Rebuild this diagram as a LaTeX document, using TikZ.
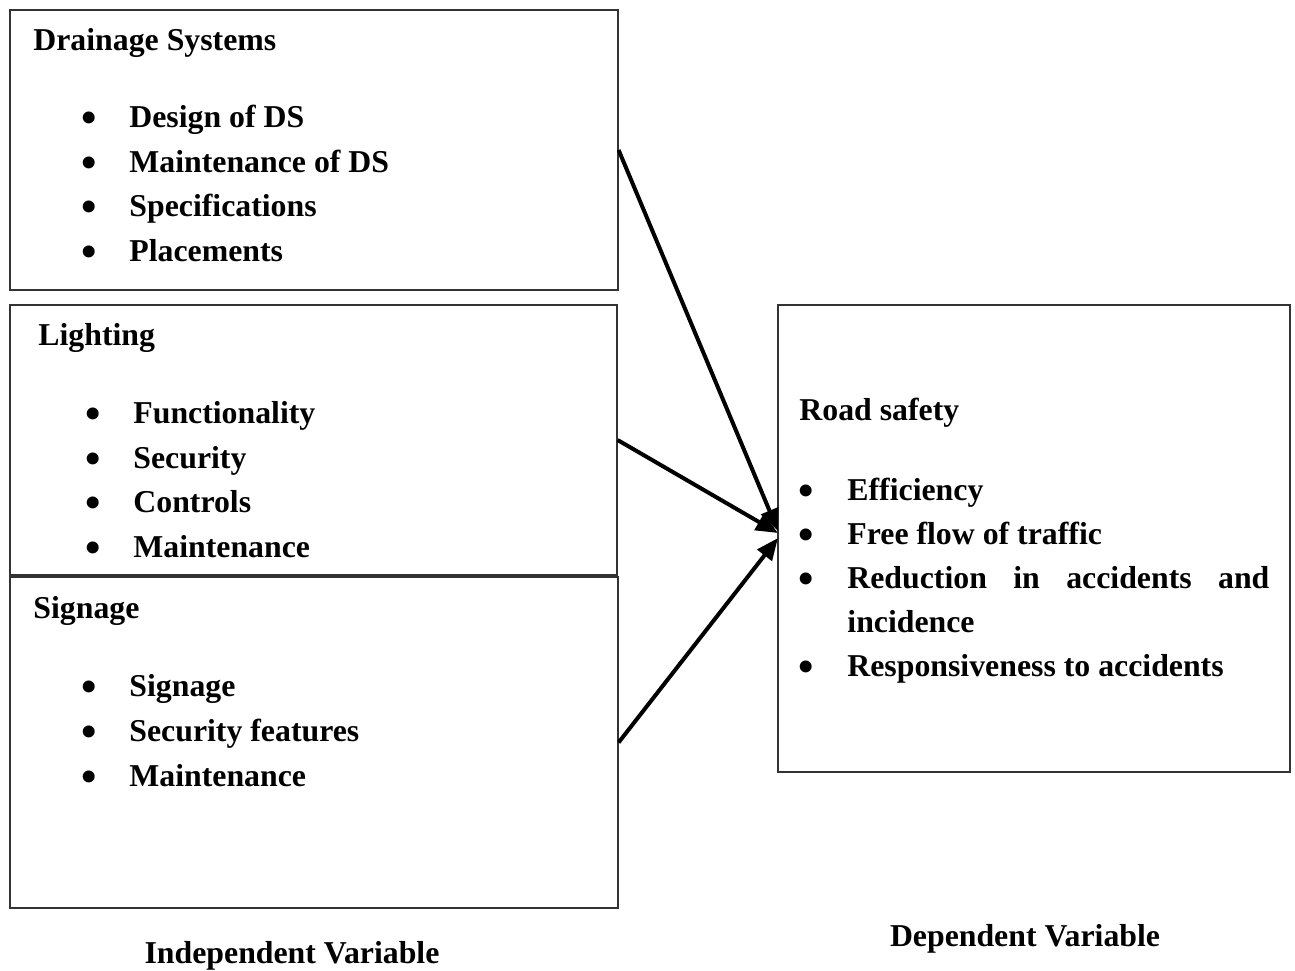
\documentclass[tikz,border=0pt]{standalone}
\usepackage{fontspec}
\setmainfont{Liberation Serif}
\usetikzlibrary{arrows.meta}
\begin{document}
\begin{tikzpicture}[x=0.5pt,y=-0.5pt,
  box/.style={draw=black!80,line width=0.6pt,rectangle,inner sep=0pt},
  txt/.style={anchor=base west,inner sep=0pt,font=\fontsize{15.9}{19}\selectfont\bfseries},
  captext/.style={anchor=base,inner sep=0pt,font=\fontsize{15.9}{19}\selectfont\bfseries},
  bul/.style={anchor=center,inner sep=0pt,yshift=-1.5pt,font=\fontsize{22}{22}\selectfont\bfseries},
  link/.style={line width=2pt,-{Triangle[length=11pt,width=9pt]}}]
\useasboundingbox (0,0) rectangle (1295,970);
% boxes
\node[box,minimum width=304pt,minimum height=140pt] (ds) at (314,150) {};
\node[box,minimum width=303.5pt,minimum height=135pt] (li) at (313.5,440) {};
\node[box,minimum width=304pt,minimum height=165.5pt] (sg) at (314,742.5) {};
\node[box,minimum width=256pt,minimum height=233.5pt] (rs) at (1034,538.5) {};
% drainage
\node[txt] (dst) at (33,50) {Drainage Systems};
\node[bul] (db1) at (89,119) {•};
\node[txt] (d1) at (129,127) {Design of DS};
\node[bul] (db2) at (89,164) {•};
\node[txt] (d2) at (129,172) {Maintenance of DS};
\node[bul] (db3) at (89,208) {•};
\node[txt] (d3) at (129,216) {Specifications};
\node[bul] (db4) at (89,253) {•};
\node[txt] (d4) at (129,261) {Placements};
% lighting
\node[txt] (lit) at (38,345) {Lighting};
\node[bul] (lb1) at (93,415) {•};
\node[txt] (l1) at (133,423) {Functionality};
\node[bul] (lb2) at (93,460) {•};
\node[txt] (l2) at (133,468) {Security};
\node[bul] (lb3) at (93,504) {•};
\node[txt] (l3) at (133,512) {Controls};
\node[bul] (lb4) at (93,549) {•};
\node[txt] (l4) at (133,557) {Maintenance};
% signage
\node[txt] (sgt) at (33,618) {Signage};
\node[bul] (sb1) at (89,688) {•};
\node[txt] (s1) at (129,696) {Signage};
\node[bul] (sb2) at (89,733) {•};
\node[txt] (s2) at (129,741) {Security features};
\node[bul] (sb3) at (89,778) {•};
\node[txt] (s3) at (129,786) {Maintenance};
% road safety
\node[txt] (rst) at (799,420) {Road safety};
\node[bul] (rb1) at (806,492) {•};
\node[txt] (r1) at (847,500) {Efficiency};
\node[bul] (rb2) at (806,536) {•};
\node[txt] (r2) at (847,544) {Free flow of traffic};
\node[bul] (rb3) at (806,580) {•};
\node[txt] (r3) at (847,588) {\hbox to 211pt{Reduction\hfil in\hfil accidents\hfil and}};
\node[txt] (r3b) at (847,632) {incidence};
\node[bul] (rb4) at (806,668) {•};
\node[txt] (r4) at (847,676) {Responsiveness to accidents};
% captions
\node[captext] (iv) at (292,963) {Independent Variable};
\node[captext] (dv) at (1025,946) {Dependent Variable};
% arrows
\coordinate (t1) at (778,531);
\coordinate (t2) at (778,533);
\coordinate (t3) at (778,538);
\draw[link] (ds.east) -- (t1);
\draw[link] (li.east) -- (t2);
\draw[link] (sg.east) -- (t3);
\end{tikzpicture}
\end{document}
